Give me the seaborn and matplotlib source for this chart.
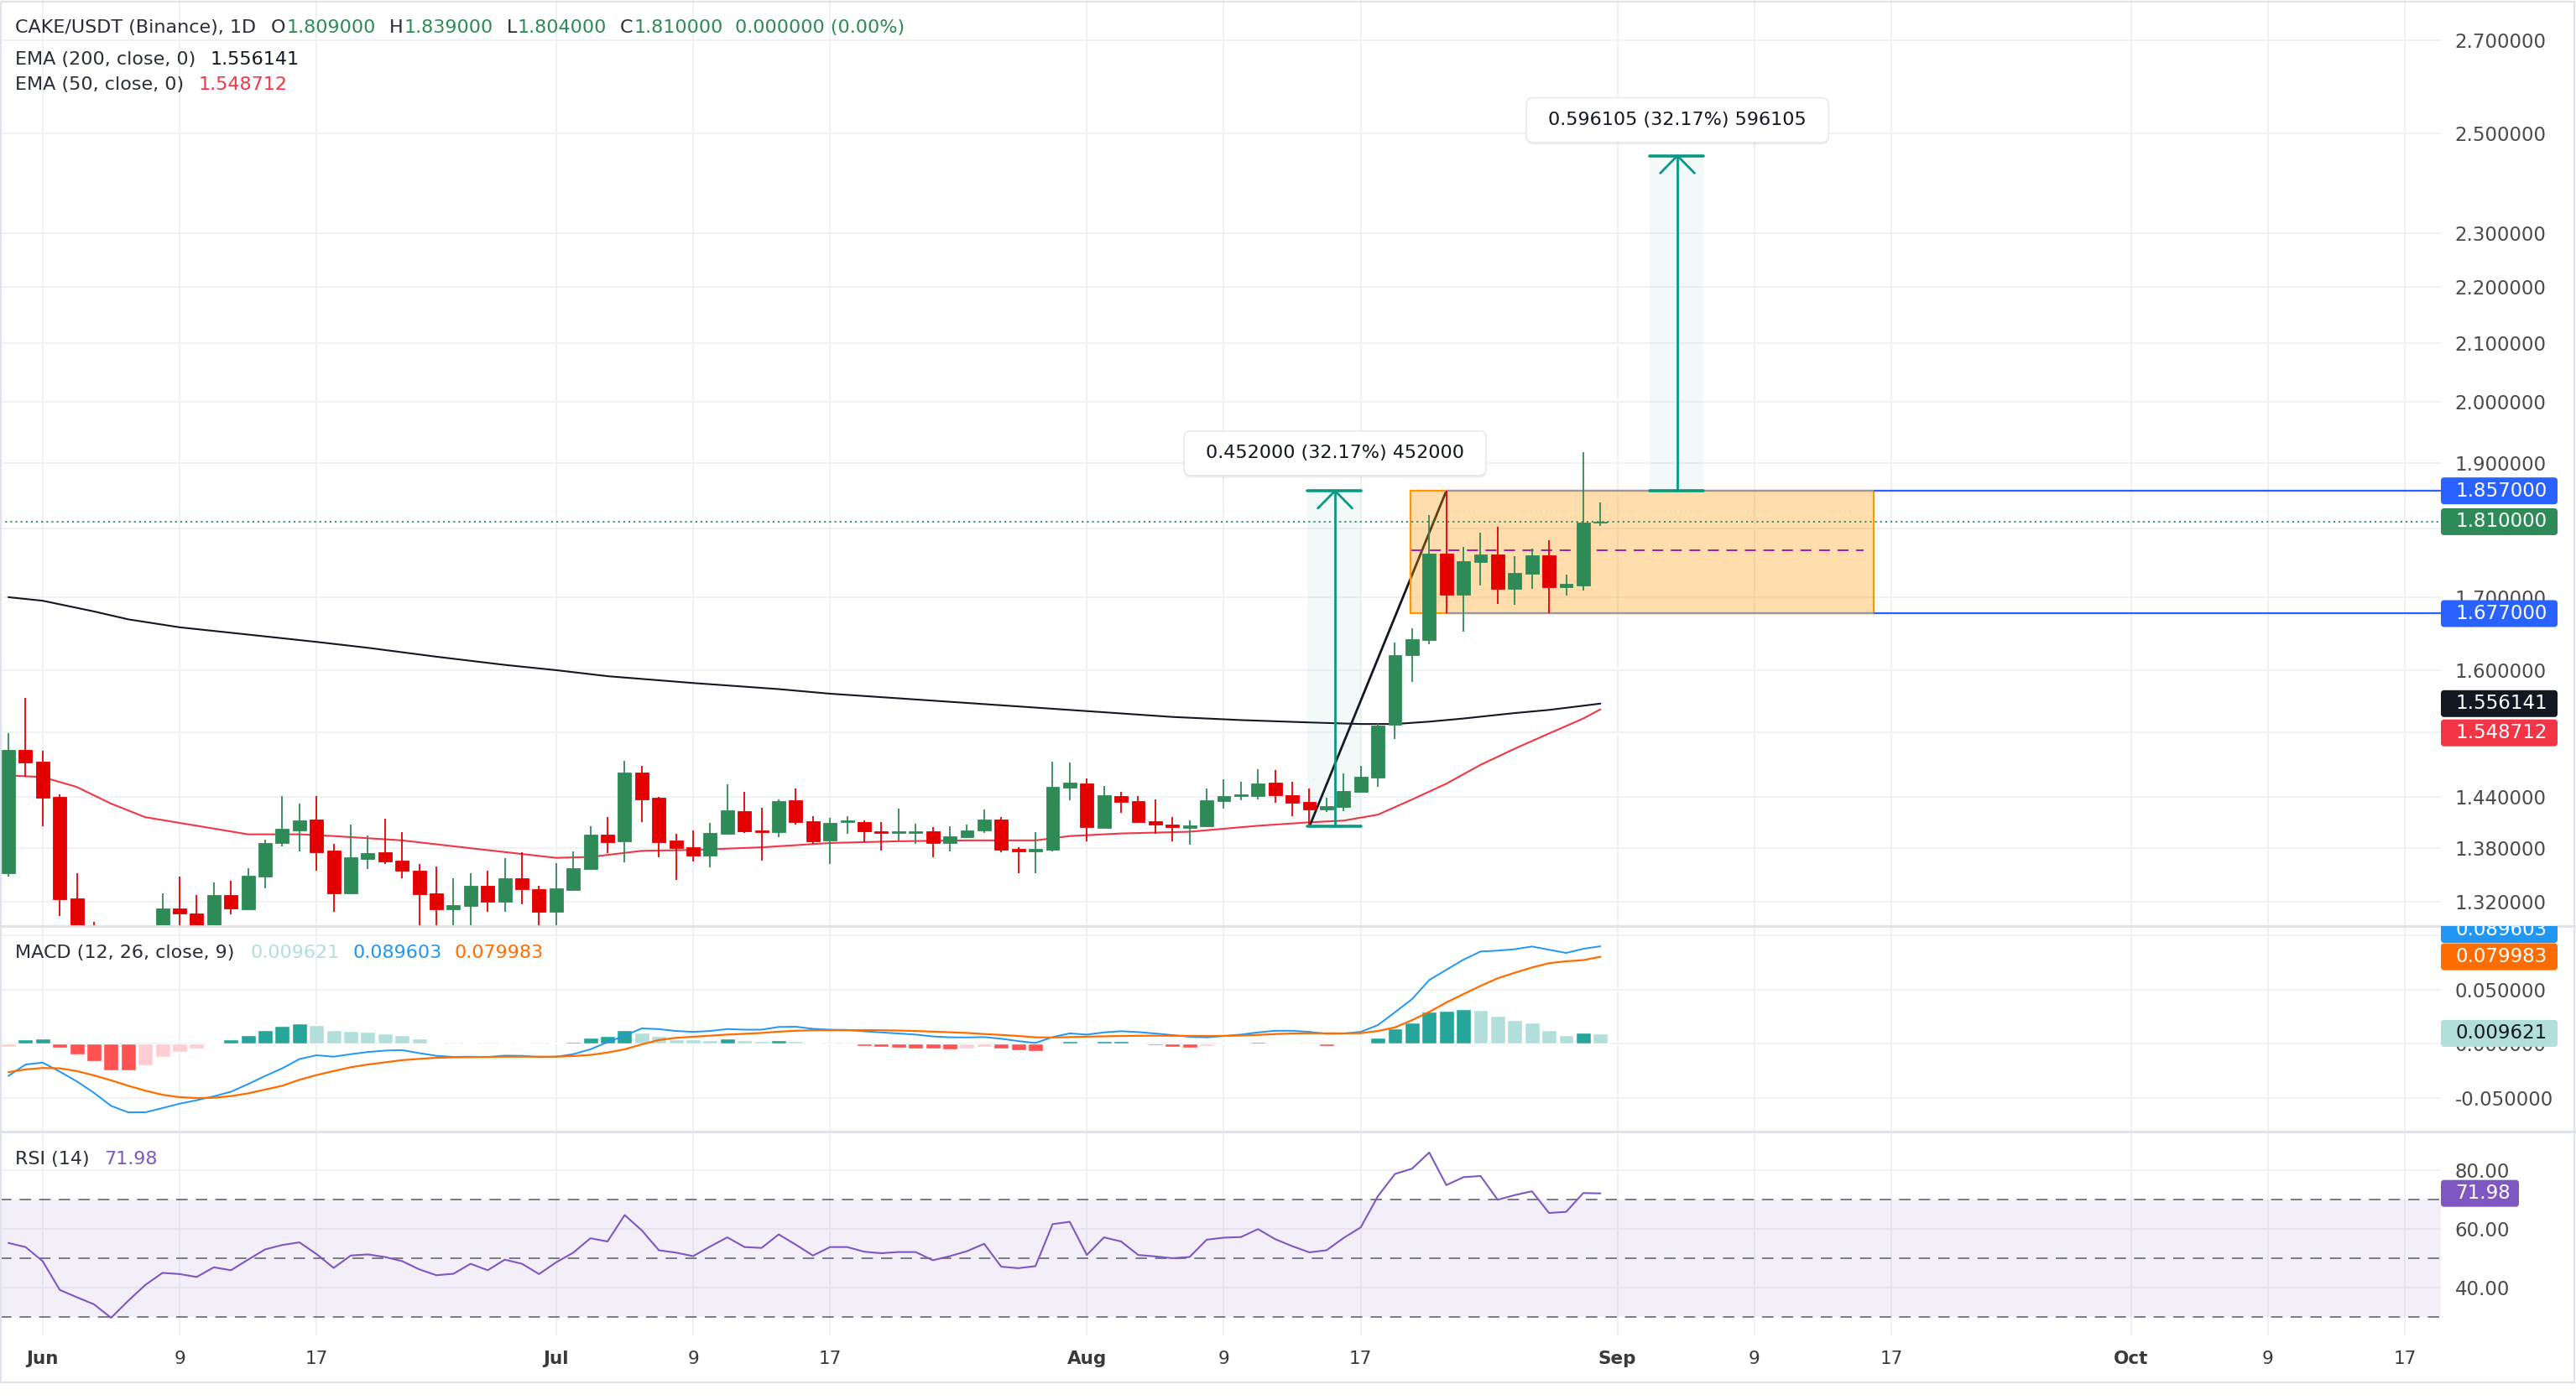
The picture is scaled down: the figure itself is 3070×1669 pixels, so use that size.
import numpy as np
import pandas as pd
import matplotlib
matplotlib.use("Agg")
import matplotlib.pyplot as plt
import matplotlib.patheffects as pe
import seaborn as sns
from matplotlib.patches import Rectangle, FancyBboxPatch
from matplotlib.lines import Line2D
from matplotlib.transforms import ScaledTranslation, Bbox, TransformedBbox
from matplotlib.ticker import FixedLocator, NullLocator, NullFormatter, FuncFormatter

sns.set_theme(style="white")
plt.rcParams["font.family"] = ["DejaVu Sans"]

W, H = 3070, 1669

# ---------------- data (day 0 = 30 May, last candle = 31 Aug) ----------------
days = np.arange(94)
opens = [1.352, 1.497, 1.483, 1.440, 1.324, 1.275, 1.252, 1.238, 1.266, 1.281,
         1.313, 1.307, 1.290, 1.327, 1.312, 1.348, 1.386, 1.401, 1.413, 1.377,
         1.329, 1.368, 1.375, 1.366, 1.354, 1.329, 1.312, 1.315, 1.338, 1.320,
         1.346, 1.334, 1.309, 1.333, 1.356, 1.396, 1.388, 1.470, 1.439, 1.389,
         1.381, 1.372, 1.397, 1.423, 1.401, 1.399, 1.436, 1.411, 1.389, 1.410,
         1.410, 1.400, 1.398, 1.398, 1.400, 1.386, 1.393, 1.401, 1.413, 1.379,
         1.376, 1.378, 1.451, 1.456, 1.403, 1.441, 1.435, 1.411, 1.407, 1.403,
         1.405, 1.435, 1.441, 1.441, 1.457, 1.442, 1.434, 1.425, 1.428, 1.446,
         1.463, 1.529, 1.620, 1.641, 1.763, 1.704, 1.751, 1.762, 1.712, 1.733,
         1.760, 1.714, 1.717, 1.809]
highs = [1.518, 1.564, 1.496, 1.443, 1.352, 1.298, 1.275, 1.282, 1.288, 1.329,
         1.348, 1.327, 1.341, 1.343, 1.357, 1.390, 1.441, 1.432, 1.441, 1.385,
         1.407, 1.395, 1.414, 1.399, 1.362, 1.359, 1.346, 1.352, 1.354, 1.369,
         1.375, 1.338, 1.363, 1.376, 1.405, 1.416, 1.484, 1.478, 1.440, 1.397,
         1.401, 1.409, 1.455, 1.446, 1.427, 1.437, 1.450, 1.417, 1.415, 1.417,
         1.412, 1.410, 1.426, 1.408, 1.404, 1.405, 1.407, 1.425, 1.416, 1.381,
         1.399, 1.483, 1.482, 1.462, 1.453, 1.446, 1.441, 1.437, 1.416, 1.412,
         1.450, 1.461, 1.458, 1.474, 1.473, 1.458, 1.450, 1.439, 1.468, 1.478,
         1.530, 1.637, 1.657, 1.820, 1.857, 1.772, 1.793, 1.803, 1.759, 1.770,
         1.783, 1.732, 1.918, 1.839]
lows = [1.348, 1.464, 1.405, 1.304, 1.262, 1.238, 1.222, 1.232, 1.255, 1.275,
        1.285, 1.280, 1.284, 1.306, 1.311, 1.335, 1.382, 1.376, 1.354, 1.309,
        1.328, 1.356, 1.362, 1.346, 1.290, 1.292, 1.293, 1.292, 1.309, 1.309,
        1.317, 1.293, 1.293, 1.332, 1.356, 1.374, 1.364, 1.410, 1.370, 1.344,
        1.365, 1.358, 1.396, 1.398, 1.366, 1.393, 1.407, 1.385, 1.362, 1.397,
        1.387, 1.377, 1.389, 1.385, 1.370, 1.376, 1.392, 1.398, 1.375, 1.352,
        1.352, 1.376, 1.436, 1.388, 1.403, 1.421, 1.409, 1.397, 1.388, 1.384,
        1.405, 1.426, 1.436, 1.437, 1.433, 1.417, 1.405, 1.422, 1.423, 1.445,
        1.452, 1.511, 1.584, 1.635, 1.677, 1.652, 1.717, 1.691, 1.689, 1.712,
        1.677, 1.702, 1.710, 1.804]
closes = [1.497, 1.482, 1.439, 1.323, 1.275, 1.252, 1.238, 1.266, 1.281, 1.313,
          1.307, 1.290, 1.327, 1.313, 1.349, 1.386, 1.402, 1.412, 1.375, 1.329,
          1.370, 1.374, 1.365, 1.354, 1.328, 1.312, 1.316, 1.338, 1.320, 1.346,
          1.334, 1.309, 1.335, 1.357, 1.396, 1.387, 1.470, 1.437, 1.387, 1.380,
          1.372, 1.398, 1.424, 1.400, 1.399, 1.435, 1.410, 1.388, 1.409, 1.412,
          1.400, 1.398, 1.400, 1.400, 1.386, 1.394, 1.401, 1.413, 1.378, 1.376,
          1.379, 1.452, 1.457, 1.404, 1.442, 1.434, 1.410, 1.407, 1.404, 1.406,
          1.436, 1.441, 1.443, 1.456, 1.442, 1.433, 1.425, 1.429, 1.447, 1.464,
          1.528, 1.620, 1.642, 1.763, 1.704, 1.752, 1.762, 1.712, 1.735, 1.760,
          1.714, 1.719, 1.809, 1.810]

ema200_days = [0, 2, 5, 7, 10, 14, 18, 21, 25, 29, 32, 35, 40, 45, 48, 52, 56, 60,
               64, 68, 72, 76, 79, 81, 83, 85, 88, 90, 93]
ema200 = [1.700, 1.695, 1.680, 1.669, 1.658, 1.648, 1.638, 1.630, 1.618, 1.607,
          1.600, 1.592, 1.583, 1.575, 1.569, 1.563, 1.557, 1.551, 1.545, 1.539,
          1.535, 1.532, 1.530, 1.530, 1.533, 1.537, 1.544, 1.548, 1.556141]
ema50_days = [0, 2, 4, 6, 8, 11, 14, 17, 19, 23, 27, 32, 34, 37, 40, 44, 48, 52, 56,
              60, 62, 65, 69, 73, 76, 78, 80, 82, 84, 86, 88, 90, 92, 93]
ema50 = [1.466, 1.464, 1.452, 1.432, 1.416, 1.406, 1.396, 1.396, 1.394, 1.389,
         1.380, 1.369, 1.370, 1.377, 1.378, 1.381, 1.386, 1.388, 1.389, 1.389,
         1.394, 1.397, 1.399, 1.406, 1.410, 1.412, 1.419, 1.437, 1.456, 1.479,
         1.499, 1.518, 1.537, 1.548712]

macd_hist = [-0.0028, 0.0039, 0.0049, -0.0039, -0.0098, -0.0159, -0.0244, -0.0246, -0.0198, -0.0121,
             -0.0074, -0.0044, 0.0012, 0.0039, 0.0077, 0.0123, 0.0162, 0.0185, 0.0169, 0.0123,
             0.0116, 0.0108, 0.0092, 0.0077, 0.0046, 0.0012, 0.0005, 0.0008, -0.0008, 0.0008,
             0.0010, -0.0008, 0.0008, 0.0015, 0.0054, 0.0069, 0.0123, 0.0100, 0.0069, 0.0039,
             0.0038, 0.0037, 0.0046, 0.0031, 0.0023, 0.0031, 0.0023, 0.0008, 0.0006, 0.0005,
             -0.0023, -0.0031, -0.0039, -0.0040, -0.0046, -0.0054, -0.0046, -0.0031, -0.0046, -0.0062,
             -0.0063, 0.0012, 0.0023, 0.0012, 0.0023, 0.0024, 0.0010, -0.0015, -0.0031, -0.0039,
             -0.0023, 0.0008, 0.0012, 0.0015, 0.0014, 0.0012, 0.0006, -0.0023, 0.0008, 0.0012,
             0.0054, 0.0139, 0.0193, 0.0293, 0.0300, 0.0316, 0.0314, 0.0254, 0.0216, 0.0193,
             0.0123, 0.0077, 0.0104, 0.009621]
macd_line = [-0.0295, -0.0190, -0.0172, -0.0255, -0.0345, -0.0450, -0.0570, -0.0629, -0.0629, -0.0590,
             -0.0550, -0.0518, -0.0482, -0.0440, -0.0370, -0.0295, -0.0225, -0.0140, -0.0105, -0.0118,
             -0.0095, -0.0075, -0.0062, -0.0058, -0.0085, -0.0110, -0.0120, -0.0118, -0.0122, -0.0108,
             -0.0110, -0.0122, -0.0118, -0.0095, -0.0050, 0.0015, 0.0075, 0.0142, 0.0135, 0.0118,
             0.0110, 0.0118, 0.0136, 0.0130, 0.0130, 0.0155, 0.0157, 0.0138, 0.0130, 0.0128,
             0.0115, 0.0105, 0.0095, 0.0085, 0.0068, 0.0060, 0.0059, 0.0062, 0.0047, 0.0025,
             0.0008, 0.0062, 0.0096, 0.0085, 0.0105, 0.0116, 0.0108, 0.0095, 0.0080, 0.0065,
             0.0059, 0.0072, 0.0085, 0.0105, 0.0120, 0.0120, 0.0110, 0.0092, 0.0095, 0.0110,
             0.0172, 0.0290, 0.0411, 0.0586, 0.0680, 0.0773, 0.0848, 0.0856, 0.0869, 0.0894,
             0.0864, 0.0835, 0.0873, 0.089603]
signal_line = [-0.0260, -0.0235, -0.0222, -0.0225, -0.0250, -0.0290, -0.0335, -0.0385, -0.0430, -0.0468,
               -0.0490, -0.0498, -0.0495, -0.0480, -0.0455, -0.0420, -0.0385, -0.0330, -0.0287, -0.0250,
               -0.0215, -0.0190, -0.0170, -0.0150, -0.0138, -0.0128, -0.0124, -0.0122, -0.0120, -0.0118,
               -0.0118, -0.0118, -0.0118, -0.0112, -0.0102, -0.0080, -0.0050, -0.0005, 0.0035, 0.0055,
               0.0065, 0.0075, 0.0085, 0.0092, 0.0100, 0.0112, 0.0120, 0.0125, 0.0125, 0.0125,
               0.0126, 0.0125, 0.0122, 0.0118, 0.0112, 0.0106, 0.0100, 0.0090, 0.0082, 0.0072,
               0.0060, 0.0058, 0.0062, 0.0066, 0.0069, 0.0072, 0.0074, 0.0075, 0.0074, 0.0073,
               0.0072, 0.0073, 0.0076, 0.0082, 0.0090, 0.0095, 0.0097, 0.0097, 0.0096, 0.0098,
               0.0118, 0.0151, 0.0218, 0.0293, 0.0380, 0.0457, 0.0532, 0.0602, 0.0653, 0.0701,
               0.0741, 0.0758, 0.0769, 0.079983]
rsi = [55.1, 53.7, 48.9, 39.1, 36.6, 34.2, 29.6, 35.4, 40.8, 44.9,
       44.5, 43.5, 46.8, 45.8, 49.4, 52.9, 54.4, 55.3, 51.3, 46.6,
       50.8, 51.2, 50.3, 48.9, 46.1, 44.1, 44.6, 48.0, 45.8, 49.4,
       48.0, 44.5, 48.5, 51.8, 56.7, 55.6, 64.6, 59.4, 52.6, 51.8,
       50.6, 53.9, 57.0, 53.7, 53.4, 58.0, 54.5, 50.8, 53.7, 53.7,
       52.1, 51.6, 52.0, 52.0, 49.2, 50.6, 52.3, 54.8, 47.0, 46.5,
       47.2, 61.5, 62.3, 51.0, 57.0, 55.6, 51.0, 50.5, 49.9, 50.3,
       56.2, 56.9, 57.1, 59.8, 56.4, 54.0, 51.9, 52.6, 56.8, 60.4,
       71.0, 78.6, 80.4, 85.9, 74.8, 77.5, 77.9, 69.8, 71.4, 72.7,
       65.3, 65.7, 72.1, 71.98]

# x axis ticks (day index -> label)
tick_days = [2, 10, 18, 32, 40, 48, 63, 71, 79, 94, 102, 110, 124, 132, 140]
tick_labels = ["Jun", "9", "17", "Jul", "9", "17", "Aug", "9", "17", "Sep", "9", "17", "Oct", "9", "17"]
month_labels = {"Jun", "Jul", "Aug", "Sep", "Oct"}

price_ticks = [1.32, 1.38, 1.44, 1.52, 1.6, 1.7, 1.8, 1.9, 2.0, 2.1, 2.2, 2.3, 2.5, 2.7]
price_hidden = {1.52, 1.8}          # grid only, label sits under a badge
macd_ticks = [-0.05, 0.0, 0.05, 0.1]
macd_hidden = {0.1}
rsi_ticks = [40, 60, 80]

# drawings
range_top, range_bottom, range_mid = 1.857, 1.677, 1.767
range_days = (81.9, 108.97)
range_line_start = 84
trend_days = (76, 84)
trend_prices = (1.405, 1.857)
measures = [
    dict(days=(75.9, 79.0), centre=77.5, start=1.405, end=1.857,
         label="0.452000 (32.17%) 452000", label_price=1.916),
    dict(days=(95.9, 99.0), centre=97.5, start=1.857, end=2.453105,
         label="0.596105 (32.17%) 596105", label_price=2.527),
]

# ---------------- style ----------------
GREEN = "#2E8A57"
RED = "#E50000"
TEXT = "#2A2E39"
AXIS_TXT = "#4A4A4A"
GRID = "#F0F1F4"
SEP = "#E0E3EB"
TEAL = "#089981"
XLIM = (-0.49, 142.1)
PLOT_RIGHT = 2909

df = pd.DataFrame({"day": days, "rsi": rsi, "macd": macd_line, "signal": signal_line})

fig = plt.figure(figsize=(W / 100, H / 100), dpi=100)
fig.patch.set_facecolor("white")


def pane(top, bottom):
    ax = fig.add_axes([0, 1 - bottom / H, PLOT_RIGHT / W, (bottom - top) / H])
    ax.set_facecolor("white")
    for s in ax.spines.values():
        s.set_visible(False)
    ax.set_xlim(*XLIM)
    ax.xaxis.set_major_locator(FixedLocator(tick_days))
    ax.yaxis.tick_right()
    ax.tick_params(axis="both", length=0)
    ax.tick_params(axis="y", pad=12, labelsize=16.5, labelcolor=AXIS_TXT)
    ax.tick_params(axis="x", labelbottom=False)
    ax.grid(True, color=GRID, lw=1.4)
    ax.set_axisbelow(True)
    return ax


def fmt(decimals, hidden=()):
    def f(v, _):
        if any(abs(v - h) < 1e-9 for h in hidden):
            return ""
        return f"{v:.{decimals}f}"
    return FuncFormatter(f)


ax_p = pane(0, 1104)
ax_m = pane(1104, 1349)
ax_r = pane(1349, 1592)

# ---------------- price pane ----------------
ax_p.set_yscale("log")
ax_p.set_ylim(1.29356, 2.7920)
ax_p.yaxis.set_major_locator(FixedLocator(price_ticks))
ax_p.yaxis.set_major_formatter(fmt(6, price_hidden))
ax_p.yaxis.set_minor_locator(NullLocator())
ax_p.yaxis.set_minor_formatter(NullFormatter())

sns.lineplot(x=ema200_days, y=ema200, ax=ax_p, color="#131722", lw=1.5, zorder=2)
sns.lineplot(x=ema50_days, y=ema50, ax=ax_p, color="#F23645", lw=1.5, zorder=2)

# trend line (under the range box)
ax_p.plot(trend_days, trend_prices, color="#131722", lw=2.0, zorder=3, solid_capstyle="round")

# range rectangle
ax_p.fill_between(range_days, range_bottom, range_top, color="#FF9800", alpha=0.32, lw=0, zorder=4)
ax_p.add_patch(Rectangle((range_days[0], range_bottom), range_days[1] - range_days[0],
                         range_top - range_bottom, fill=False, ec="#FF9800", lw=1.6, zorder=4.2))
ax_p.hlines([range_top, range_bottom], range_line_start, range_days[1], color="#9598A1", lw=1.6, zorder=4.3)
ax_p.hlines([range_top, range_bottom], range_days[1], XLIM[1], color="#2962FF", lw=1.6, zorder=4.3)
ax_p.hlines(range_mid, range_days[0] + 0.05, range_days[1] - 0.6, color="#9C27B0", lw=1.5,
            linestyles=(0, (6.3, 4.3)), zorder=4.4)

# candles
ohlc = pd.DataFrame({"o": opens, "h": highs, "l": lows, "c": closes}, index=days)
cols = np.where(ohlc["c"] >= ohlc["o"], GREEN, RED)
ax_p.vlines(days, ohlc["l"], ohlc["h"], colors=cols, lw=1.3, zorder=5)
body_lo = np.minimum(ohlc["o"], ohlc["c"])
body_hi = np.maximum(ohlc["o"], ohlc["c"])
ax_p.bar(days, body_hi - body_lo, bottom=body_lo, width=0.78, color=cols, edgecolor=cols,
         lw=0.6, zorder=5.5)

# last price dotted line
ax_p.axhline(closes[-1], color=GREEN, lw=1.3, ls=(0, (1.2, 2.2)), zorder=6)

# measurement arrows
chev = np.exp(-20.7 / 1435)
for m in measures:
    d0, d1 = m["days"]
    c = m["centre"]
    ax_p.fill_between([d0, d1], m["start"], m["end"], color=TEAL, alpha=0.05, lw=0, zorder=3.5)
    ax_p.plot([c, c], [m["start"], m["end"]], color=TEAL, lw=2.0, zorder=6)
    ax_p.plot([d0, d1], [m["start"], m["start"]], color=TEAL, lw=2.6, zorder=6)
    ax_p.plot([d0, d1], [m["end"], m["end"]], color=TEAL, lw=2.6, zorder=6)
    ax_p.plot([c - 1.0, c, c + 1.0], [m["end"] * chev, m["end"], m["end"] * chev],
              color=TEAL, lw=2.0, zorder=6, solid_capstyle="round")
    tr = fig.dpi_scale_trans + ScaledTranslation(c, m["label_price"], ax_p.transData)
    box = FancyBboxPatch((-1.80, -0.265), 3.60, 0.53, boxstyle="round,pad=0,rounding_size=0.08",
                         transform=tr, fc="white", ec="#E6E8EE", lw=1, zorder=8)
    box.set_path_effects([pe.withSimplePatchShadow(offset=(0, -2), shadow_rgbFace="black", alpha=0.07),
                          pe.Normal()])
    fig.add_artist(box)
    fig.text(0, 0, m["label"], transform=tr, ha="center", va="center", fontsize=16,
             color="#131722", zorder=9)

# ---------------- MACD pane ----------------
ax_m.set_ylim(-0.08059, 0.10817)
ax_m.yaxis.set_major_locator(FixedLocator(macd_ticks))
ax_m.yaxis.set_major_formatter(fmt(6, macd_hidden))
hist = np.asarray(macd_hist)
prev = np.r_[hist[0], hist[:-1]]
hcols = np.where(hist >= 0,
                 np.where(hist > prev, "#26A69A", "#B2DFDB"),
                 np.where(hist < prev, "#FF5252", "#FFCDD2"))
ax_m.bar(days, hist, width=0.88, color=hcols, zorder=2)
sns.lineplot(data=df, x="day", y="macd", ax=ax_m, color="#2196F3", lw=1.4, zorder=3)
sns.lineplot(data=df, x="day", y="signal", ax=ax_m, color="#FF6D00", lw=1.6, zorder=3)
ax_m.set_xlabel("")
ax_m.set_ylabel("")

# ---------------- RSI pane ----------------
ax_r.set_ylim(23.6, 93.03)
ax_r.yaxis.set_major_locator(FixedLocator(rsi_ticks))
ax_r.yaxis.set_major_formatter(fmt(2))
ax_r.axhspan(30, 70, color="#7E57C2", alpha=0.09, lw=0, zorder=1)
for lvl in (70, 50, 30):
    ax_r.axhline(lvl, color="#787B86", lw=1.4, ls=(0, (7, 5)), zorder=1.5)
sns.lineplot(data=df, x="day", y="rsi", ax=ax_r, color="#7E57C2", lw=1.5, zorder=3)
ax_r.set_xlabel("")
ax_r.set_ylabel("")
ax_r.set_xticks(tick_days)
ax_r.set_xticklabels(tick_labels)
ax_r.tick_params(axis="x", labelbottom=True, pad=13, labelsize=15.5, labelcolor="#3A3A3A")
for lbl in ax_r.get_xticklabels():
    if lbl.get_text() in month_labels:
        lbl.set_fontweight("bold")
for ax in (ax_p, ax_m, ax_r):
    ax.set_xlim(*XLIM)
ax_p.set_xlabel("")
ax_p.set_ylabel("")

# ---------------- frame / separators ----------------
for ysep in (1104, 1349):
    fig.add_artist(Line2D([0, 1], [1 - ysep / H] * 2, transform=fig.transFigure, color=SEP, lw=2.2))
fig.add_artist(Rectangle((1 / W, 1 - 1648 / H), 3067 / W, 1646 / H, transform=fig.transFigure,
                         fill=False, ec=SEP, lw=1.6))


# ---------------- axis badges ----------------
def badge(ax, value, label, fc, tc="white", shift=0.0, width=1.39, clip=None):
    tr = fig.dpi_scale_trans + ScaledTranslation(1.0, value, ax.get_yaxis_transform())
    box = FancyBboxPatch((0, shift - 0.16), width, 0.32, boxstyle="round,pad=0,rounding_size=0.04",
                         transform=tr, fc=fc, ec="none", zorder=30)
    fig.add_artist(box)
    t = fig.text(0.17, shift, label, transform=tr, color=tc, fontsize=16.5, ha="left", va="center",
                 zorder=31)
    if clip is not None:
        for a in (box, t):
            a.set_clip_on(True)
            a.set_clip_box(clip)


macd_clip = TransformedBbox(Bbox([[0, 1 - 1349 / H], [1, 1 - 1104 / H]]), fig.transFigure)
badge(ax_p, range_top, f"{range_top:.6f}", "#2962FF")
badge(ax_p, closes[-1], f"{closes[-1]:.6f}", GREEN)
badge(ax_p, range_bottom, f"{range_bottom:.6f}", "#2962FF")
badge(ax_p, ema200[-1], f"{ema200[-1]:.6f}", "#131722")
badge(ax_p, ema50[-1], f"{ema50[-1]:.6f}", "#F23645", shift=-0.28)
badge(ax_m, macd_line[-1], f"{macd_line[-1]:.6f}", "#2196F3", shift=0.20, clip=macd_clip)
badge(ax_m, signal_line[-1], f"{signal_line[-1]:.6f}", "#FF6D00")
badge(ax_m, macd_hist[-1], f"{macd_hist[-1]:.6f}", "#B2DFDB", tc="#131722")
badge(ax_r, rsi[-1], f"{rsi[-1]:.2f}", "#7E57C2", width=0.93)

# ---------------- legends (top-left text rows) ----------------
renderer = fig.canvas.get_renderer()


def text_row(x, y, pieces, size=16):
    for s, color, gap in pieces:
        t = fig.text(x / W, 1 - y / H, s, color=color, fontsize=size, ha="left", va="center", zorder=40)
        x += t.get_window_extent(renderer).width + gap


text_row(17.5, 33, [
    ("CAKE/USDT (Binance), 1D", TEXT, 18),
    ("O", TEXT, 1), (f"{opens[-1]:.6f}", GREEN, 16),
    ("H", TEXT, 1), (f"{highs[-1]:.6f}", GREEN, 16),
    ("L", TEXT, 1), (f"{lows[-1]:.6f}", GREEN, 16),
    ("C", TEXT, 1), (f"{closes[-1]:.6f}", GREEN, 14),
    ("0.000000 (0.00%)", GREEN, 0)])
text_row(17.5, 70.7, [("EMA (200, close, 0)", TEXT, 18), (f"{ema200[-1]:.6f}", "#131722", 0)])
text_row(17.5, 100.7, [("EMA (50, close, 0)", TEXT, 18), (f"{ema50[-1]:.6f}", "#F23645", 0)])
text_row(17.9, 1136, [("MACD (12, 26, close, 9)", TEXT, 19),
                      (f"{macd_hist[-1]:.6f}", "#B2DFDB", 16),
                      (f"{macd_line[-1]:.6f}", "#2196F3", 15),
                      (f"{signal_line[-1]:.6f}", "#FF6D00", 0)])
text_row(18, 1381.7, [("RSI (14)", TEXT, 17), (f"{rsi[-1]:.2f}", "#7E57C2", 0)])

fig.savefig("out.png", dpi=100, facecolor="white")
